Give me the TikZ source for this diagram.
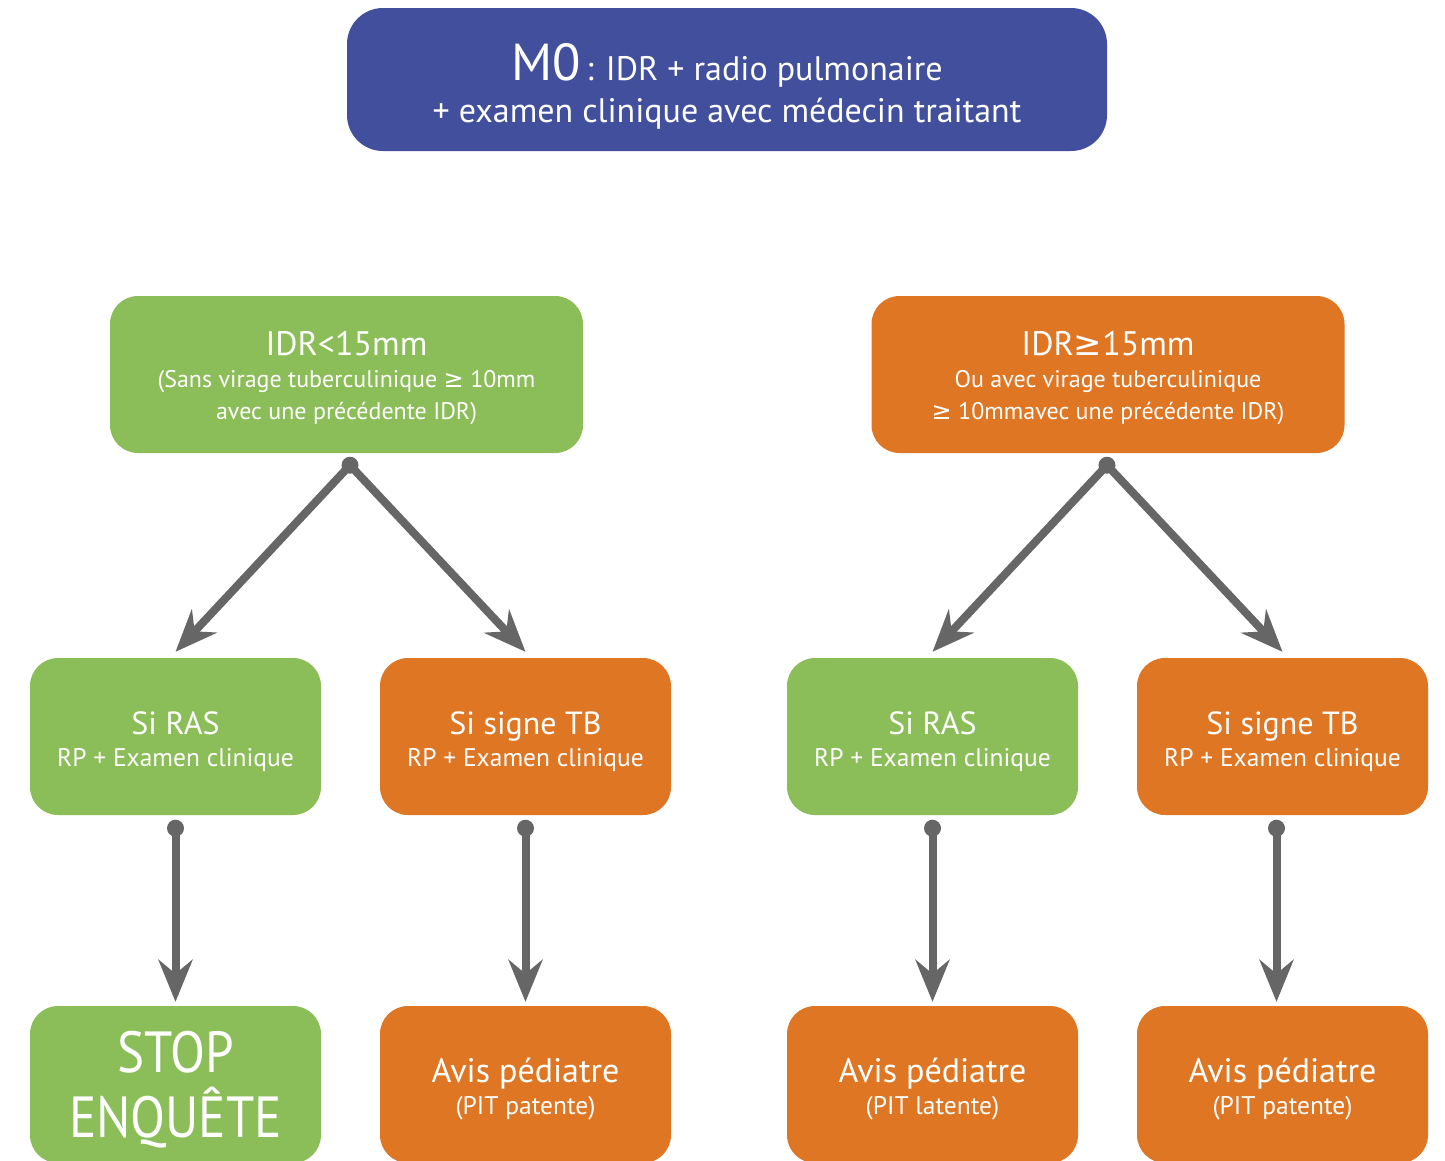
\documentclass[tikz,border=0pt]{standalone}
\usepackage{fontspec}
\setmainfont{PT Sans}
\newfontfamily\narrowfont[FakeStretch=0.88]{PT Sans}
\newfontfamily\symfont{DejaVu Sans}
\usetikzlibrary{arrows.meta}
\definecolor{topblue}{RGB}{66,79,156}
\definecolor{okgreen}{RGB}{139,190,88}
\definecolor{alertorange}{RGB}{222,118,36}
\definecolor{linkgray}{RGB}{102,102,102}
\newcommand\gesym{{\symfont ≥}}
\newcommand\fs[2]{\fontsize{#1}{#2}\selectfont}

\begin{document}
\begin{tikzpicture}[x=1pt,y=-1pt,
  card/.style={rounded corners=28pt, inner sep=0pt,
    minimum width=291pt, minimum height=157pt},
  wide/.style={card, minimum width=473pt},
  green/.style={fill=okgreen},
  orange/.style={fill=alertorange},
  txt/.style={text=white, align=center, inner sep=0pt},
  sub/.style={txt, font=\fs{24}{32}},
  sub2/.style={txt, font=\fs{25.5}{32}},
  conn/.style={draw=linkgray, line width=8pt,
    -{Stealth[length=42pt,width=34pt,inset=14pt]}},
  dot/.style={circle, fill=linkgray, inner sep=0pt, minimum size=17pt}]

\useasboundingbox (0,0) rectangle (1445,1160);
\clip (0,0) rectangle (1445,1160);
\fill[white] (0,0) rectangle (1445,1160);

% start of the investigation
\node[card, fill=topblue, rounded corners=36pt, minimum width=760pt,
  minimum height=143pt] (m0) at (727,79.5) {};
\node[txt, font=\fs{34}{42}] (m0-t) at ([yshift=-7pt]m0.center)
  {{\fs{52}{52}M0}\,: IDR + radio pulmonaire\\+ examen clinique avec médecin traitant};

% IDR result
\node[wide, green] (low) at (346.5,374.5) {};
\node[sub] (low-t) at ([yshift=-4pt]low.center)
  {{\fs{34}{34}IDR<15mm}\\(Sans virage tuberculinique \gesym{} 10mm\\avec une précédente IDR)};
\node[wide, orange] (high) at (1108,374.5) {};
\node[sub] (high-t) at ([yshift=-4pt]high.center)
  {{\fs{34}{34}IDR\gesym15mm}\\Ou avec virage tuberculinique\\\gesym{} 10mmavec une précédente IDR)};

% clinical check
\node[card, green] (lras) at (175.5,736.5) {};
\node[sub2] (lras-t) at ([yshift=-5pt]lras.center) {{\fs{32}{32}Si RAS}\\RP + Examen clinique};
\node[card, orange] (ltb) at (525.5,736.5) {};
\node[sub2] (ltb-t) at ([yshift=-5pt]ltb.center) {{\fs{32}{32}Si signe TB}\\RP + Examen clinique};
\node[card, green] (hras) at (932.5,736.5) {};
\node[sub2] (hras-t) at ([yshift=-5pt]hras.center) {{\fs{32}{32}Si RAS}\\RP + Examen clinique};
\node[card, orange] (htb) at (1282.5,736.5) {};
\node[sub2] (htb-t) at ([yshift=-5pt]htb.center) {{\fs{32}{32}Si signe TB}\\RP + Examen clinique};

% outcome
\node[card, green] (stop) at (175.5,1084.5) {};
\node[txt, font=\narrowfont\fs{58}{65}] (stop-t) at ([yshift=-5pt]stop.center) {STOP\\ENQUÊTE};
\node[card, orange] (ped1) at (525.5,1084.5) {};
\node[sub2] (ped1-t) at ([yshift=-5pt]ped1.center) {{\fs{34}{34}Avis pédiatre}\\(PIT patente)};
\node[card, orange] (ped2) at (932.5,1084.5) {};
\node[sub2] (ped2-t) at ([yshift=-5pt]ped2.center) {{\fs{34}{34}Avis pédiatre}\\(PIT latente)};
\node[card, orange] (ped3) at (1282.5,1084.5) {};
\node[sub2] (ped3-t) at ([yshift=-5pt]ped3.center) {{\fs{34}{34}Avis pédiatre}\\(PIT patente)};

% connectors: forks from the IDR boxes
\foreach \src/\a/\b/\dx in {low/lras/ltb/3.5, high/hras/htb/-1}{
  \node[dot] (\src-o) at ([xshift=\dx pt, yshift=-12pt]\src.south) {};
  \draw[conn] (\src-o.center) -- ([yshift=6pt]\a.north);
  \draw[conn] (\src-o.center) -- ([yshift=6pt]\b.north);
}
% straight links down to the outcomes
\foreach \src/\dst/\dx in {lras/stop/0, ltb/ped1/0, hras/ped2/0, htb/ped3/-6}{
  \node[dot] (\src-o) at ([xshift=\dx pt, yshift=-13pt]\src.south) {};
  \draw[conn] (\src-o.center) -- ([xshift=\dx pt, yshift=4pt]\dst.north);
}
\end{tikzpicture}
\end{document}
